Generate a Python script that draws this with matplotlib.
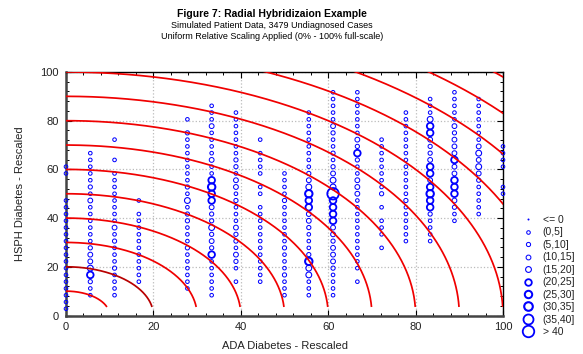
import numpy as np
import matplotlib
matplotlib.use("Agg")
import matplotlib.pyplot as plt
from matplotlib.ticker import MultipleLocator
from matplotlib.lines import Line2D

plt.rcParams['font.family'] = ['Liberation Sans', 'DejaVu Sans']

# ---------------- data ----------------
# x columns (ADA Diabetes - Rescaled)
x_values = [0.0, 5.56, 11.11, 16.67, 22.22, 27.78, 33.33, 38.89, 44.44, 50.0,
            55.56, 61.11, 66.67, 72.22, 77.78, 83.33, 88.89, 94.44, 100.0]
# y grid step (HSPH Diabetes - Rescaled): rows are multiples of 100/36
y_step = 100.0 / 36.0
# first row index present in each column
col_start = [1, 3, 3, 5, 0, 4, 3, 5, 5, 3, 3, 3, 5, 10, 11, 11, 14, 15, 18]
# size class per consecutive row ('.' = no point), classes 0..9 map to legend bins
col_levels = [
    "11111111111111111...11",
    "1125433211111131211111",
    "1111211121311111111.1..1",
    "11111111111.1",
    "",
    "111111211122141211111112.1",
    "11111152324223556511311113111",
    "1.123122311121331221111111",
    "111111111111.11.1111.1",
    "1112111211111121111",
    "1114462111233556432111111111",
    "1111233323355559443212112311111",
    "1.111111111113331125231111111",
    "1.111.1.211111111",
    "11111121111111111111",
    "1111255653553223554111",
    "11235553353332311111",
    "111112343431111111",
    "11..1111",
]
bin_labels = ["<= 0", "(0,5]", "(5,10]", "(10,15]", "(15,20]", "(20,25]",
              "(25,30]", "(30,35]", "(35,40]", "> 40"]
# radial reference arcs
arc_radii = [10, 20, 30, 40, 50, 60, 70, 80, 90, 100, 110, 120, 130, 140]

# marker styling per class (diameter in px, edge width in px)
diam_px = [2.0, 3.6, 4.2, 4.8, 5.8, 6.6, 7.4, 8.6, 10.0, 11.5]
lw_px = [0.0, 1.0, 1.0, 1.0, 1.1, 1.8, 2.0, 2.1, 1.8, 1.8]
BLUE = "#0000ff"

# ---------------- figure ----------------
DPI = 100
fig = plt.figure(figsize=(5.83, 3.54), dpi=DPI)
ax = fig.add_axes([66/583, 1-315.5/354, (503-66)/583, (315.5-72)/354])

px2pt = 72.0 / DPI

# points
pts_x, pts_y, pts_l = [], [], []
for xv, st, lv in zip(x_values, col_start, col_levels):
    for k, ch in enumerate(lv):
        if ch == '.':
            continue
        pts_x.append(xv)
        pts_y.append((st + k) * y_step)
        pts_l.append(int(ch))
pts_x = np.array(pts_x); pts_y = np.array(pts_y); pts_l = np.array(pts_l)

for lev in range(10):
    m = pts_l == lev
    if not m.any():
        continue
    s = (diam_px[lev] * px2pt) ** 2
    if lev == 0:
        ax.scatter(pts_x[m], pts_y[m], s=s, c=BLUE, linewidths=0, zorder=3, clip_on=False)
    else:
        ax.scatter(pts_x[m], pts_y[m], s=s, facecolors='none', edgecolors=BLUE,
                   linewidths=lw_px[lev] * px2pt, zorder=3, clip_on=False)

# arcs
for r in arc_radii:
    t0 = np.arcsin(min(3.5 / r, 1.0))
    t = np.linspace(t0, np.pi / 2, 400)
    col = "#b80000" if r == 20 else "#f00000"
    ax.plot(r * np.cos(t), r * np.sin(t), color=col, lw=1.25, zorder=4,
            solid_capstyle='butt')

ax.set_xlim(0, 100)
ax.set_ylim(0, 100)
ax.xaxis.set_major_locator(MultipleLocator(20))
ax.yaxis.set_major_locator(MultipleLocator(20))
ax.xaxis.set_minor_locator(MultipleLocator(4))
ax.yaxis.set_minor_locator(MultipleLocator(4))
ax.tick_params(which='both', direction='in', top=True, right=True,
               labelsize=8, colors='black', labelcolor='#222222')
ax.tick_params(which='major', length=4, width=0.8, pad=5)
ax.tick_params(which='minor', length=2.5, width=0.7)
ax.grid(True, which='major', linestyle=':', color='#bbbbbb', lw=0.9)
ax.set_axisbelow(True)
for s in ['left', 'bottom']:
    ax.spines[s].set_color('#444444')
    ax.spines[s].set_linewidth(1.8)
for s in ['top', 'right']:
    ax.spines[s].set_color('black')
    ax.spines[s].set_linewidth(1.0)

ax.set_xlabel("ADA Diabetes - Rescaled", fontsize=8, color='#222222', labelpad=6)
ax.set_ylabel("HSPH Diabetes - Rescaled", fontsize=8, color='#222222', labelpad=11)

# titles
fig.text(272/583, 1-14/354, "Figure 7: Radial Hybridizaion Example", ha='center',
         va='center', fontsize=7.5, fontweight='bold')
fig.text(272/583, 1-25.5/354, "Simulated Patient Data, 3479 Undiagnosed Cases",
         ha='center', va='center', fontsize=6.5)
fig.text(272/583, 1-36.5/354, "Uniform Relative Scaling Applied (0% - 100% full-scale)",
         ha='center', va='center', fontsize=6.5)

# legend
handles = []
for lev in range(10):
    if lev == 0:
        h = Line2D([], [], linestyle='none', marker='o', markersize=diam_px[lev]*px2pt,
                   markerfacecolor=BLUE, markeredgecolor=BLUE, markeredgewidth=0)
    else:
        h = Line2D([], [], linestyle='none', marker='o', markersize=diam_px[lev]*px2pt,
                   markerfacecolor='none', markeredgecolor=BLUE,
                   markeredgewidth=lw_px[lev]*px2pt)
    handles.append(h)
fig.legend(handles, bin_labels, loc='upper left', bbox_to_anchor=(523/583, 1-215/354),
           frameon=False, fontsize=7.5, handlelength=1.0, handletextpad=0.9,
           labelspacing=0.235, borderpad=0, borderaxespad=0, labelcolor='#222222')

fig.savefig("out.png", dpi=DPI)
